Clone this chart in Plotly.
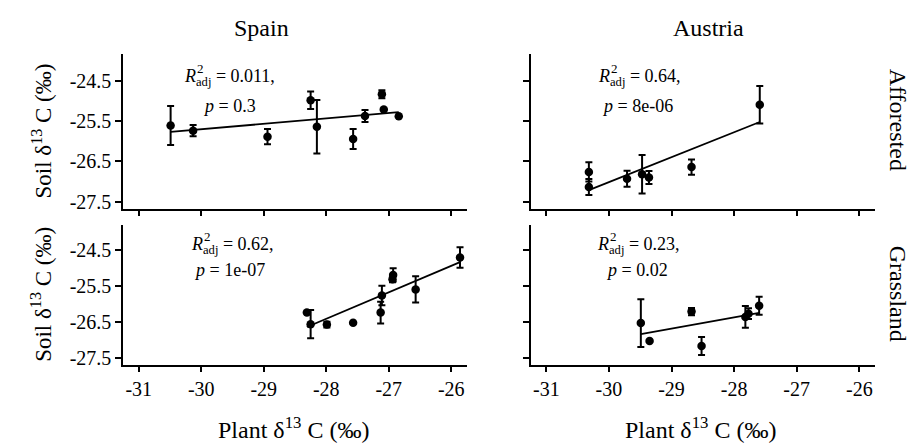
import numpy as np
import plotly.graph_objects as go

# ---------------- data ----------------
countries = ["Spain", "Austria"]
land_uses = ["Afforested", "Grassland"]

spain_aff_x = [-30.49, -30.13, -28.94, -28.25, -28.15, -27.57, -27.38, -27.11, -27.08, -26.84]
spain_aff_y = [-25.60, -25.73, -25.88, -24.97, -25.63, -25.94, -25.36, -24.82, -25.20, -25.37]
spain_aff_se = [0.49, 0.14, 0.19, 0.22, 0.67, 0.25, 0.15, 0.10, 0.0, 0.0]

austria_aff_x = [-30.32, -30.32, -29.71, -29.47, -29.36, -28.68, -27.59]
austria_aff_y = [-26.76, -27.14, -26.93, -26.82, -26.90, -26.64, -25.08]
austria_aff_se = [0.24, 0.20, 0.20, 0.48, 0.16, 0.19, 0.47]

spain_gra_x = [-28.31, -28.25, -27.99, -27.57, -27.13, -27.11, -26.93, -26.94, -26.57, -25.86]
spain_gra_y = [-26.24, -26.56, -26.57, -26.52, -26.24, -25.77, -25.20, -25.32, -25.60, -24.72]
spain_gra_se = [0.0, 0.39, 0.08, 0.0, 0.30, 0.27, 0.18, 0.08, 0.36, 0.28]

austria_gra_x = [-29.49, -29.35, -28.68, -28.52, -27.82, -27.77, -27.60]
austria_gra_y = [-26.53, -27.02, -26.21, -27.16, -26.36, -26.27, -26.05]
austria_gra_se = [0.66, 0.0, 0.10, 0.25, 0.30, 0.15, 0.25]

r2_labels = ["0.011,", "0.64,", "0.62,", "0.23,"]
p_labels = ["0.3", "8e-06", "1e-07", "0.02"]

x_tickvals = [-31, -30, -29, -28, -27, -26]
x_ticktext = ["-31", "-30", "-29", "-28", "-27", "-26"]
y_tickvals = [-24.5, -25.5, -26.5, -27.5]
y_ticktext = ["-24.5", "-25.5", "-26.5", "-27.5"]

# ---------------- layout geometry ----------------
W, H = 917, 443
FONT = "Liberation Serif"
X_RANGE = [-31.25, -25.75]
Y_RANGE = [-27.675, -23.825]

col_px = [(115.1, 458.9), (522.65, 866.95)]
row_px = [(47.0, 202.8), (219.5, 360.7)]

def xdom(c):
    a, b = col_px[c]
    return [a / W, b / W]

def ydom(r):
    t, b = row_px[r]
    return [1 - b / H, 1 - t / H]

panels = [
    (0, 0, spain_aff_x, spain_aff_y, spain_aff_se),
    (0, 1, austria_aff_x, austria_aff_y, austria_aff_se),
    (1, 0, spain_gra_x, spain_gra_y, spain_gra_se),
    (1, 1, austria_gra_x, austria_gra_y, austria_gra_se),
]

fig = go.Figure()
layout_axes = {}
annotations = []

ann_left = [-30.31, -30.20, -30.20, -30.22]
ann_y1 = [-24.40, -24.40, -24.40, -24.40]
ann_y2 = [-25.11, -25.11, -25.06, -25.06]
ann_cx = -29.55

tickfont = dict(family=FONT, size=20, color="black")

for i, (r, c, xs, ys, se) in enumerate(panels):
    n = i + 1
    xa = "x" if n == 1 else f"x{n}"
    ya = "y" if n == 1 else f"y{n}"
    xs_a = np.array(xs)
    ys_a = np.array(ys)
    # fitted regression line
    slope, icpt = np.polyfit(xs_a, ys_a, 1)
    lx = np.array([xs_a.min(), xs_a.max()])
    fig.add_trace(go.Scatter(x=lx, y=slope * lx + icpt, mode="lines",
                             line=dict(color="black", width=1.8),
                             xaxis=xa, yaxis=ya, showlegend=False, hoverinfo="skip"))
    fig.add_trace(go.Scatter(x=xs, y=ys, mode="markers",
                             marker=dict(color="black", size=8.5),
                             error_y=dict(type="data", array=se, visible=True,
                                          color="black", thickness=2, width=3.5),
                             xaxis=xa, yaxis=ya, showlegend=False))
    xkey = "xaxis" if n == 1 else f"xaxis{n}"
    ykey = "yaxis" if n == 1 else f"yaxis{n}"
    layout_axes[xkey] = dict(
        domain=xdom(c), range=X_RANGE, anchor=ya, showgrid=False, zeroline=False,
        showline=True, linecolor="black", linewidth=1.6,
        ticks="outside", ticklen=6, tickwidth=1.6, tickcolor="black",
        tickmode="array", tickvals=x_tickvals, ticktext=x_ticktext,
        showticklabels=(r == 1), tickfont=tickfont,
    )
    layout_axes[ykey] = dict(
        domain=ydom(r), range=Y_RANGE, anchor=xa, showgrid=False, zeroline=False,
        showline=True, linecolor="black", linewidth=1.6,
        ticks="outside", ticklen=6, tickwidth=1.6, tickcolor="black",
        tickmode="array", tickvals=y_tickvals, ticktext=y_ticktext,
        showticklabels=(c == 0), tickfont=tickfont,
    )
    # annotation: R^2_adj and p
    annotations.append(dict(
        x=ann_left[i], y=ann_y1[i], xref=xa, yref=ya, xanchor="left", yanchor="middle",
        text=f"<i>R</i><sub>adj</sub> = {r2_labels[i]}", showarrow=False,
        font=dict(family=FONT, size=18, color="black")))
    annotations.append(dict(
        x=ann_left[i], y=ann_y1[i], xref=xa, yref=ya, xanchor="left", yanchor="middle",
        xshift=13, yshift=9, text="2", showarrow=False,
        font=dict(family=FONT, size=13, color="black")))
    annotations.append(dict(
        x=ann_cx, y=ann_y2[i], xref=xa, yref=ya, xanchor="center", yanchor="middle",
        text=f"<i>p</i> = {p_labels[i]}", showarrow=False,
        font=dict(family=FONT, size=18, color="black")))

# column strips
col_cx = [253, 700]
for c, name in enumerate(countries):
    annotations.append(dict(x=col_cx[c] / W, y=1 - 20 / H, xref="paper", yref="paper",
                            xanchor="center", yanchor="middle", text=name, showarrow=False,
                            font=dict(family=FONT, size=24, color="black")))
# row strips
row_cy = [113, 289]
for r, name in enumerate(land_uses):
    annotations.append(dict(x=890 / W, y=1 - row_cy[r] / H, xref="paper", yref="paper",
                            xanchor="center", yanchor="middle", text=name, showarrow=False,
                            textangle=90, font=dict(family=FONT, size=24, color="black")))
# axis titles
for c in range(2):
    cx = (col_px[c][0] + col_px[c][1]) / 2
    annotations.append(dict(x=(cx - 2) / W, y=1 - 425 / H, xref="paper", yref="paper",
                            xanchor="center", yanchor="middle",
                            text="Plant δ<sup>13</sup> C (‰)", showarrow=False,
                            font=dict(family=FONT, size=24, color="black")))
for r in range(2):
    cy = (row_px[r][0] + row_px[r][1]) / 2
    annotations.append(dict(x=34 / W, y=1 - cy / H, xref="paper", yref="paper",
                            xanchor="center", yanchor="middle",
                            text="Soil δ<sup>13</sup> C (‰)", showarrow=False, textangle=-90,
                            font=dict(family=FONT, size=23, color="black")))

fig.update_layout(
    width=W, height=H, margin=dict(l=0, r=0, t=0, b=0),
    paper_bgcolor="white", plot_bgcolor="white",
    font=dict(family=FONT, color="black"),
    annotations=annotations, **layout_axes,
)

fig.write_html("out.html")
